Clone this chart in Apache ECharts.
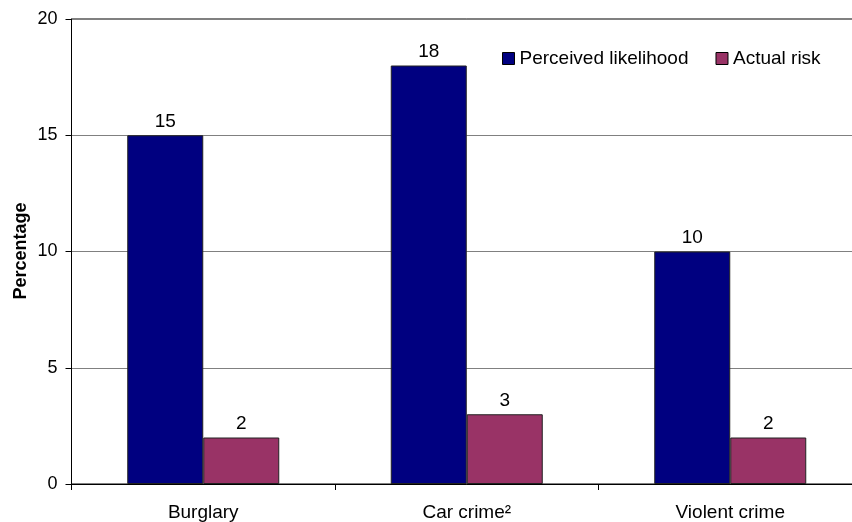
<!DOCTYPE html>
<html>
<head>
<meta charset="utf-8">
<script src="https://cdn.jsdelivr.net/npm/echarts@6/dist/echarts.min.js"></script>
<style>html,body{margin:0;padding:0;background:#fff;overflow:hidden;width:852px;height:522px;}#c{width:862px;height:522px;}</style>
</head>
<body>
<div id="c"></div>
<script>
var categories = ['Burglary', 'Car crime²', 'Violent crime'];
var perceived = [15, 18, 10];
var actual = [2, 3, 2];
var yTicks = [0, 5, 10, 15, 20];
var yTitle = 'Percentage';

var chart = echarts.init(document.getElementById('c'), null, {renderer: 'canvas'});
var font = 'Liberation Sans, Arial, sans-serif';
chart.setOption({
  animation: false,
  backgroundColor: '#fff',
  textStyle: {fontFamily: font},
  grid: {left: 71.5, right: 0, top: 19, bottom: 38, show: true, borderColor: '#000', borderWidth: 1, backgroundColor: 'transparent'},
  legend: {
    top: 44, left: 497, itemWidth: 12, itemHeight: 12, itemGap: 27,
    icon: 'rect',
    itemStyle: {borderColor: '#000', borderWidth: 1},
    textStyle: {fontFamily: font, fontSize: 19, color: '#000'},
    data: ['Perceived likelihood', 'Actual risk']
  },
  graphic: [{
    type: 'text', x: 21, y: 251, rotation: Math.PI / 2,
    style: {text: yTitle, font: 'bold 18px ' + font, fill: '#000', align: 'center', verticalAlign: 'middle'}
  }],
  xAxis: {
    type: 'category', data: categories,
    axisLine: {lineStyle: {color: '#000', width: 1}},
    axisTick: {show: true, length: 6, lineStyle: {color: '#000'}},
    axisLabel: {color: '#000', fontSize: 19, fontFamily: font, margin: 19}
  },
  yAxis: {
    type: 'value', min: yTicks[0], max: yTicks[yTicks.length - 1], interval: 5,
    axisLine: {show: true, lineStyle: {color: '#000', width: 1}},
    axisTick: {show: true, length: 6, lineStyle: {color: '#000'}},
    axisLabel: {color: '#000', fontSize: 18, fontFamily: font, margin: 14},
    splitLine: {lineStyle: {color: '#808080', width: 1}}
  },
  series: [
    {
      name: 'Perceived likelihood', type: 'bar', data: perceived,
      barWidth: 76, barGap: '0%',
      itemStyle: {color: '#000080', borderColor: '#222', borderWidth: 1},
      label: {show: true, position: 'top', color: '#000', fontSize: 19, fontFamily: font, distance: 4}
    },
    {
      name: 'Actual risk', type: 'bar', data: actual,
      barWidth: 76,
      itemStyle: {color: '#993366', borderColor: '#222', borderWidth: 1},
      label: {show: true, position: 'top', color: '#000', fontSize: 19, fontFamily: font, distance: 4}
    }
  ]
});
</script>
</body>
</html>
